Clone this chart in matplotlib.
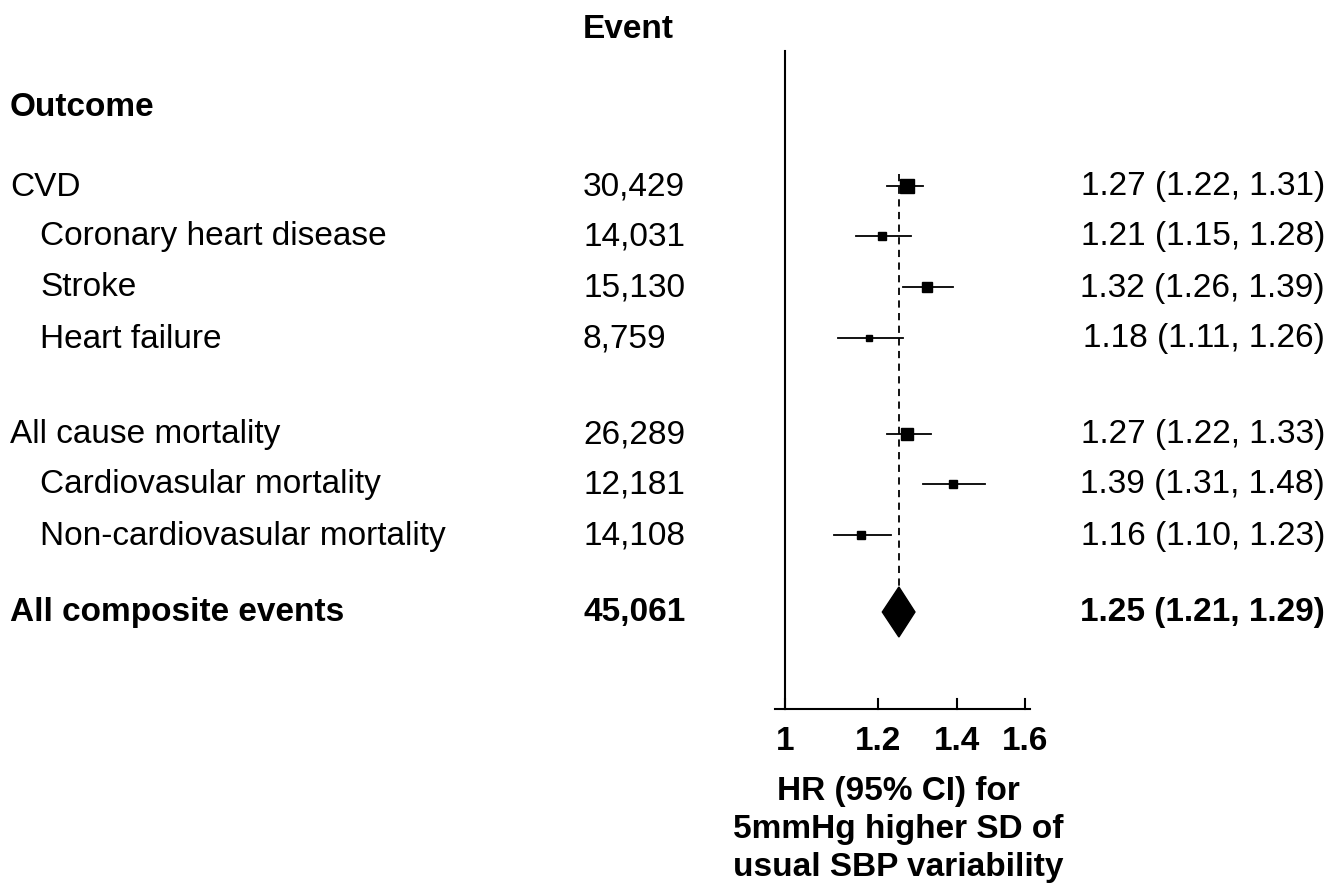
import matplotlib
matplotlib.use("Agg")
import matplotlib.pyplot as plt
import numpy as np

plt.rcParams['font.family'] = ['Liberation Sans', 'DejaVu Sans']

labels = ["CVD", "Coronary heart disease", "Stroke", "Heart failure",
          "All cause mortality", "Cardiovasular mortality", "Non-cardiovasular mortality"]
indent = [False, True, True, True, False, True, True]
events = ["30,429", "14,031", "15,130", "8,759", "26,289", "12,181", "14,108"]
hr = [1.27, 1.21, 1.32, 1.18, 1.27, 1.39, 1.16]
lo = [1.22, 1.15, 1.26, 1.11, 1.22, 1.31, 1.10]
hi = [1.31, 1.28, 1.39, 1.26, 1.33, 1.48, 1.23]
msize = [9.5, 6, 7, 5, 8.5, 6, 6]
comp_label = "All composite events"
comp_events = "45,061"
comp_hr, comp_lo, comp_hi = 1.25, 1.21, 1.29
ticks = [1, 1.2, 1.4, 1.6]
tick_labels = ["1", "1.2", "1.4", "1.6"]

W, H = 1332, 887
row_y = [187, 237, 288, 339, 435, 485, 536]
comp_y = 613

fig = plt.figure(figsize=(W/100, H/100), dpi=100)
ax = fig.add_axes([770/W, 0, (1035-770)/W, 1])
ax.set_xscale('log')
ax.set_xlim(0.971, 1.632)
ax.set_ylim(H, 0)
ax.axis('off')

fs = 24
def ftext(x, y, s, size=fs, **kw):
    fig.text(x/W, 1 - y/H, s, fontsize=size, va='center', **kw)

# axes lines
ax.plot([1, 1], [52, 710], color='black', lw=1.5)
ax.plot([0.98, 1.615], [710, 710], color='black', lw=1.5)
for t, tl in zip(ticks, tick_labels):
    ax.plot([t, t], [700, 710], color='black', lw=1.5)
    ax.text(t, 742, tl, ha='center', va='center', fontsize=fs, fontweight='bold')

ax.plot([comp_hr, comp_hr], [175, 588], color='black', lw=1.3, ls=(0, (4, 3)))

for i in range(len(labels)):
    y = row_y[i]
    ax.plot([lo[i], hi[i]], [y, y], color='black', lw=1.3)
    ax.plot(hr[i], y, marker='s', ms=msize[i], color='black', ls='none')
    ftext(40 if indent[i] else 10, y, labels[i])
    ftext(583, y, events[i])
    ftext(1325, y, f"{hr[i]:.2f} ({lo[i]:.2f}, {hi[i]:.2f})", ha='right')

ax.fill([comp_lo, comp_hr, comp_hi, comp_hr], [comp_y, comp_y-25, comp_y, comp_y+25], color='black')
ftext(10, comp_y, comp_label, fontweight='bold')
ftext(583, comp_y, comp_events, fontweight='bold')
ftext(1325, comp_y, f"{comp_hr:.2f} ({comp_lo:.2f}, {comp_hi:.2f})", fontweight='bold', ha='right')

ftext(10, 108, "Outcome", fontweight='bold')
ftext(628, 30, "Event", fontweight='bold', ha='center')
for j, line in enumerate(["HR (95% CI) for", "5mmHg higher SD of", "usual SBP variability"]):
    ftext(898, 792 + 38*j, line, fontweight='bold', ha='center')

fig.savefig("out.png", dpi=100)
